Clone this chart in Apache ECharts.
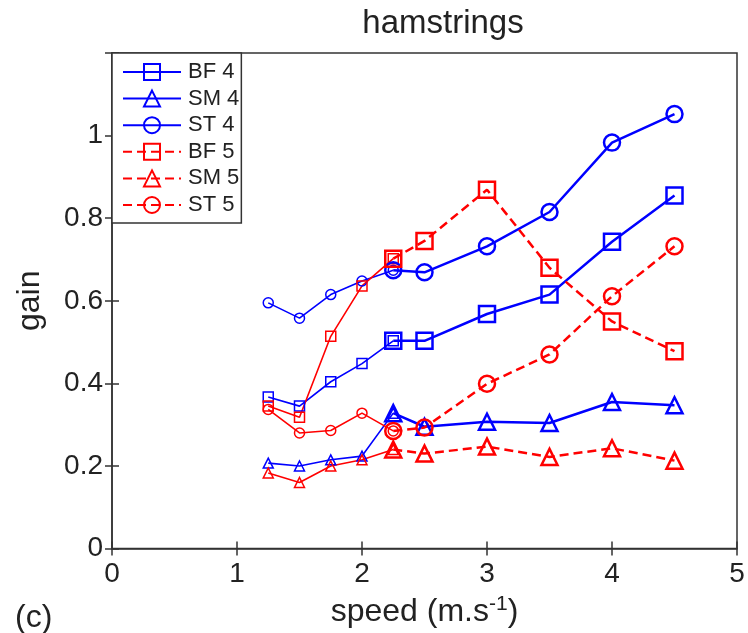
<!DOCTYPE html>
<html>
<head>
<meta charset="utf-8">
<script src="https://cdn.jsdelivr.net/npm/echarts@6/dist/echarts.min.js"></script>
<style>
html,body{margin:0;padding:0;background:#fff;}
#chart{width:748px;height:633px;}
</style>
</head>
<body>
<div id="chart"></div>
<script>
// ---- data ----
const speedsLow  = [1.25, 1.5, 1.75, 2, 2.25];
const speedsHigh = [2.25, 2.5, 3, 3.5, 4, 4.5];

const BF4_low  = [0.367, 0.345, 0.404, 0.448, 0.503];
const BF4_high = [0.503, 0.503, 0.568, 0.615, 0.743, 0.855];
const SM4_low  = [0.207, 0.200, 0.215, 0.224, 0.328];
const SM4_high = [0.328, 0.295, 0.307, 0.304, 0.355, 0.347];
const ST4_low  = [0.595, 0.558, 0.615, 0.648, 0.674];
const ST4_high = [0.674, 0.669, 0.732, 0.815, 0.983, 1.052];
const BF5_low  = [0.345, 0.318, 0.514, 0.636, 0.702];
const BF5_high = [0.702, 0.745, 0.869, 0.680, 0.550, 0.478];
const SM5_low  = [0.183, 0.160, 0.200, 0.215, 0.240];
const SM5_high = [0.240, 0.230, 0.247, 0.222, 0.243, 0.213];
const ST5_low  = [0.337, 0.280, 0.286, 0.328, 0.285];
const ST5_high = [0.285, 0.293, 0.399, 0.470, 0.611, 0.732];

const xTicks = [0, 1, 2, 3, 4, 5];
const yTicks = [0, 0.2, 0.4, 0.6, 0.8, 1];

const legendNames = ['BF 4', 'SM 4', 'ST 4', 'BF 5', 'SM 5', 'ST 5'];

// ---- styling ----
const FONT = '"Liberation Sans", Arial, Helvetica, sans-serif';
const BLUE = '#0000ff', RED = '#ff0000';
const TXT = '#222';

function pts(xs, ys) { return xs.map((x, i) => [x, ys[i]]); }

function thick(name, ys, color, symbol, dashed) {
  return {
    name: name, type: 'line', xAxisIndex: 0, yAxisIndex: 0,
    data: pts(speedsHigh, ys),
    symbol: symbol, symbolSize: 16, showAllSymbol: true,
    lineStyle: { color: color, width: 2.5, type: dashed ? [9, 5] : 'solid' },
    itemStyle: { color: 'rgba(0,0,0,0)', borderColor: color, borderWidth: 2.5 },
    emphasis: { disabled: true }, z: 3
  };
}
function thin(name, ys, color, symbol) {
  return {
    name: name, type: 'line', xAxisIndex: 0, yAxisIndex: 0,
    data: pts(speedsLow, ys),
    symbol: symbol, symbolSize: 10, showAllSymbol: true,
    lineStyle: { color: color, width: 1.6, type: 'solid' },
    itemStyle: { color: 'rgba(0,0,0,0)', borderColor: color, borderWidth: 1.5 },
    emphasis: { disabled: true }, z: 2
  };
}

const series = [
  thin('BF 4 low', BF4_low, BLUE, 'rect'),
  thin('SM 4 low', SM4_low, BLUE, 'triangle'),
  thin('ST 4 low', ST4_low, BLUE, 'circle'),
  thin('BF 5 low', BF5_low, RED, 'rect'),
  thin('SM 5 low', SM5_low, RED, 'triangle'),
  thin('ST 5 low', ST5_low, RED, 'circle'),
  thick('BF 4', BF4_high, BLUE, 'rect', false),
  thick('SM 4', SM4_high, BLUE, 'triangle', false),
  thick('ST 4', ST4_high, BLUE, 'circle', false),
  thick('BF 5', BF5_high, RED, 'rect', true),
  thick('SM 5', SM5_high, RED, 'triangle', true),
  thick('ST 5', ST5_high, RED, 'circle', true)
];

const axisLine = { show: true, lineStyle: { color: '#333', width: 1.5 } };
const axisTick = { show: true, inside: true, length: 7, lineStyle: { color: '#333', width: 1.5 } };

const option = {
  animation: false,
  backgroundColor: '#fff',
  title: [
    { text: 'hamstrings', left: 438, top: 2, textAlign: 'center',
      textStyle: { fontFamily: FONT, fontSize: 33, fontWeight: 'normal', color: TXT } },
    { text: '(c)', left: 10, top: 597,
      textStyle: { fontFamily: FONT, fontSize: 32, fontWeight: 'normal', color: TXT } }
  ],
  grid: { left: 112, right: 11, top: 53, bottom: 84, show: true, borderColor: '#333', borderWidth: 1.5, backgroundColor: 'transparent' },
  legend: {
    data: legendNames,
    orient: 'vertical', left: 112, top: 53,
    itemWidth: 58, itemHeight: 20, itemGap: 4.6,
    padding: [8, 2, 7, 10],
    borderColor: '#333', borderWidth: 1.5, backgroundColor: '#fff',
    textStyle: { fontFamily: FONT, fontSize: 22, color: TXT, lineHeight: 22, padding: [0, 0, 0, 2] },
    selectedMode: false, z: 10
  },
  xAxis: [
    { type: 'value', min: xTicks[0], max: xTicks[xTicks.length - 1], interval: 1,
      axisLine: axisLine, axisTick: axisTick, splitLine: { show: false },
      axisLabel: { fontFamily: FONT, fontSize: 28, color: TXT, margin: 12 },
      name: '{a|speed (m.s}{s|-1}{a|)}', nameLocation: 'middle', nameGap: 38,
      nameTextStyle: { rich: {
        a: { fontFamily: FONT, fontSize: 32, color: TXT },
        s: { fontFamily: FONT, fontSize: 21, color: TXT, padding: [0, 0, 16, 0] }
      } } },
    { type: 'value', position: 'top', min: 0, max: 5, interval: 1,
      axisLine: { show: false }, axisTick: axisTick, axisLabel: { show: false }, splitLine: { show: false } }
  ],
  yAxis: [
    { type: 'value', min: 0, max: 1.2, interval: 0.2,
      axisLine: axisLine, axisTick: axisTick, splitLine: { show: false },
      axisLabel: { fontFamily: FONT, fontSize: 28, color: TXT, margin: 9,
        formatter: function (v) {
          const t = yTicks.find(k => Math.abs(k - v) < 1e-9);
          return t === undefined ? '' : String(t);
        } },
      name: 'gain', nameLocation: 'middle', nameGap: 66,
      nameTextStyle: { fontFamily: FONT, fontSize: 32, color: TXT } },
    { type: 'value', position: 'right', min: 0, max: 1.2, interval: 0.2,
      axisLine: { show: false }, axisTick: axisTick, axisLabel: { show: false }, splitLine: { show: false } }
  ],
  series: series
};

const chart = echarts.init(document.getElementById('chart'), null, { renderer: 'canvas' });
chart.setOption(option);
</script>
</body>
</html>
